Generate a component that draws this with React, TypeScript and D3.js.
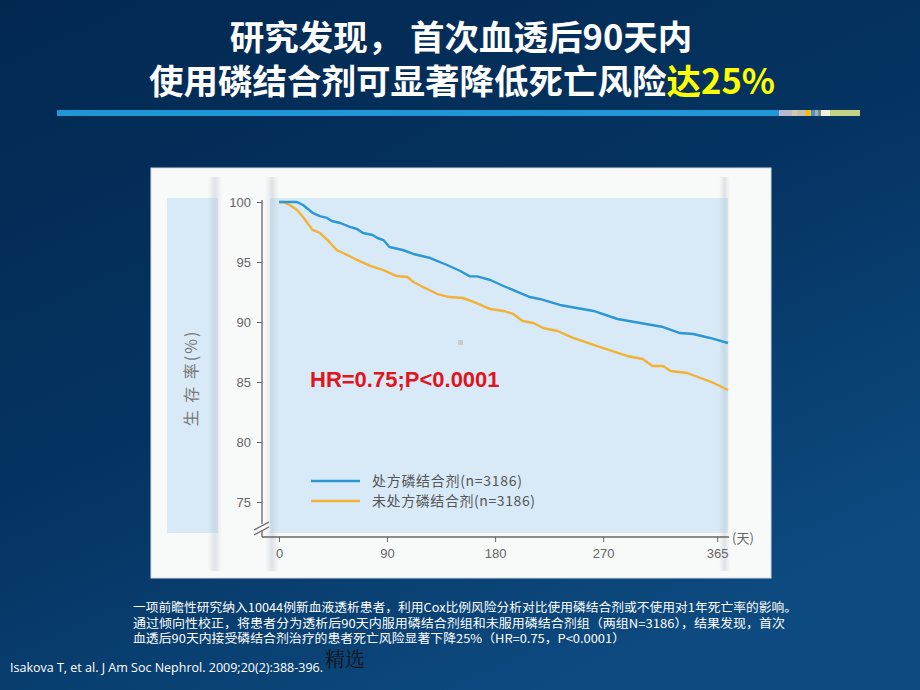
import { useEffect, useRef } from 'react';
import * as d3 from 'd3';

const titleLine1 = '研究发现， 首次血透后90天内';
const titleLine2 = '使用磷结合剂可显著降低死亡风险';
const titleHighlight = '达25%';

const blueDays = [0, 15, 20, 28, 34, 40, 44, 51, 59, 65, 70, 78, 82, 87, 92, 103, 112, 126, 140, 151, 159, 165, 176, 187, 209, 217, 234, 248, 262, 282, 301, 320, 334, 345, 359, 374];
const blueSurv = [100, 100, 99.75, 99.1, 98.83, 98.67, 98.42, 98.25, 97.92, 97.75, 97.42, 97.25, 97.0, 96.83, 96.25, 96.0, 95.67, 95.33, 94.75, 94.25, 93.8, 93.8, 93.5, 93.0, 92.08, 91.92, 91.42, 91.17, 90.92, 90.25, 89.92, 89.58, 89.08, 89.0, 88.67, 88.25];

const orangeDays = [0, 3, 9, 15, 20, 28, 34, 42, 48, 57, 65, 76, 87, 98, 107, 112, 120, 132, 142, 153, 162, 176, 187, 195, 203, 212, 220, 232, 245, 267, 290, 303, 311, 320, 326, 340, 362, 374];
const orangeSurv = [100, 100, 99.75, 99.33, 98.75, 97.67, 97.42, 96.67, 96.0, 95.58, 95.17, 94.67, 94.33, 93.83, 93.75, 93.33, 92.92, 92.33, 92.08, 92.0, 91.67, 91.08, 90.92, 90.67, 90.08, 89.92, 89.5, 89.25, 88.67, 87.92, 87.17, 86.92, 86.33, 86.33, 85.92, 85.75, 84.92, 84.33];

const xTicks = [0, 90, 180, 270, 365];
const yTicks = [75, 80, 85, 90, 95, 100];
const seriesNames = ['处方磷结合剂(n=3186)', '未处方磷结合剂(n=3186)'];
const seriesColors = ['#2b98d4', '#f2b236'];
const legendWidths = [150, 163];

const notes = [
  '一项前瞻性研究纳入10044例新血液透析患者，利用Cox比例风险分析对比使用磷结合剂或不使用对1年死亡率的影响。',
  '通过倾向性校正，将患者分为透析后90天内服用磷结合剂组和未服用磷结合剂组（两组N=3186），结果发现，首次',
  '血透后90天内接受磷结合剂治疗的患者死亡风险显著下降25%（HR=0.75，P<0.0001）'
];
const noteWidths = [664, 652, 492];
const citation = 'Isakova T, et al. J Am Soc Nephrol. 2009;20(2):388-396.';

// little coloured blocks at the end of the title rule
const decoColors = ['#b9b8d0', '#d2c9a6', '#c4c0b8', '#f0c012', '#4f8fd0', '#93b4c6', '#6f9070', '#f2f0da', '#c2d483'];
const decoWidths = [13, 5, 8, 6, 4, 3, 3, 9, 30];

const CJK = '"Noto Sans CJK SC", "Noto Sans", sans-serif';
const SANS = '"Liberation Sans", Arial, sans-serif';

export default function App() {
  const svgRef = useRef<SVGSVGElement>(null);

  useEffect(() => {
    if (!svgRef.current) return;
    const svg = d3.select(svgRef.current);
    svg.selectAll('*').remove();

    const defs = svg.append('defs');
    const bg = defs.append('linearGradient').attr('id', 'bg')
      .attr('x1', 0).attr('y1', 0).attr('x2', 0.6).attr('y2', 1);
    bg.append('stop').attr('offset', '0%').attr('stop-color', '#022850');
    bg.append('stop').attr('offset', '55%').attr('stop-color', '#053462');
    bg.append('stop').attr('offset', '100%').attr('stop-color', '#0d4a80');

    const shade = defs.append('linearGradient').attr('id', 'shade');
    shade.append('stop').attr('offset', '0%').attr('stop-color', '#a4b0bc').attr('stop-opacity', 0);
    shade.append('stop').attr('offset', '50%').attr('stop-color', '#a4b0bc').attr('stop-opacity', 0.3);
    shade.append('stop').attr('offset', '100%').attr('stop-color', '#a4b0bc').attr('stop-opacity', 0);

    svg.append('rect').attr('width', 920).attr('height', 690).attr('fill', 'url(#bg)');

    // title, two lines in one text block
    const title = svg.append('text')
      .attr('text-anchor', 'middle')
      .style('font-family', CJK).style('font-weight', 700).style('font-size', '34.5px')
      .attr('fill', '#fff');
    title.append('tspan').attr('x', 461).attr('y', 50).text(titleLine1);
    const t2 = title.append('tspan').attr('x', 462).attr('y', 93.5);
    t2.append('tspan').text(titleLine2);
    t2.append('tspan').attr('fill', '#ffff00').text(titleHighlight);

    // rule under title
    svg.append('rect').attr('x', 57).attr('y', 110).attr('width', 722).attr('height', 6).attr('fill', '#1f97d6');
    let dx = 779;
    decoColors.forEach((c, i) => {
      svg.append('rect').attr('x', dx).attr('y', 110).attr('width', decoWidths[i]).attr('height', 6).attr('fill', c);
      dx += decoWidths[i];
    });

    // card
    svg.append('rect').attr('x', 151).attr('y', 168).attr('width', 620).attr('height', 410)
      .attr('fill', '#f8f9f9').attr('stroke', '#d4dbe1').attr('stroke-width', 1);
    svg.append('rect').attr('x', 167).attr('y', 198).attr('width', 51).attr('height', 335).attr('fill', '#d8eaf7');
    svg.append('rect').attr('x', 270).attr('y', 198).attr('width', 458).attr('height', 335).attr('fill', '#d8eaf7');
    [[208, 14], [265, 14], [719, 11]].forEach(([sx, sw]) => {
      svg.append('rect').attr('x', sx).attr('y', 177).attr('width', sw).attr('height', 394).attr('fill', 'url(#shade)');
    });
    svg.append('rect').attr('x', 458).attr('y', 340).attr('width', 5).attr('height', 5).attr('fill', '#c8cdd2');

    const x = d3.scaleLinear().domain([0, 374]).range([279, 728]);
    const y = d3.scaleLinear().domain([75, 100]).range([502, 202]);

    // y axis
    const yAxis = svg.append('g').attr('transform', 'translate(262,0)')
      .call(d3.axisLeft(y).tickValues(yTicks).tickSize(5).tickPadding(6));
    yAxis.select('.domain').remove();
    yAxis.selectAll('line').attr('stroke', '#666');
    yAxis.selectAll('text').attr('fill', '#666').style('font-family', SANS).style('font-size', '13px');
    svg.append('line').attr('x1', 262).attr('x2', 262).attr('y1', 200).attr('y2', 524)
      .attr('stroke', '#666').attr('stroke-width', 1.3);
    svg.append('line').attr('x1', 262).attr('x2', 262).attr('y1', 530).attr('y2', 537)
      .attr('stroke', '#666').attr('stroke-width', 1.3);
    [0, 5].forEach(o => {
      svg.append('line').attr('x1', 254).attr('y1', 530 + o).attr('x2', 269).attr('y2', 522 + o)
        .attr('stroke', '#666').attr('stroke-width', 1.2);
    });

    // x axis
    const xAxis = svg.append('g').attr('transform', 'translate(0,537)')
      .call(d3.axisBottom(x).tickValues(xTicks).tickSize(5).tickPadding(7));
    xAxis.select('.domain').remove();
    xAxis.selectAll('line').attr('stroke', '#666');
    xAxis.selectAll('text').attr('fill', '#666').style('font-family', SANS).style('font-size', '13px');
    svg.append('line').attr('x1', 262).attr('x2', 729).attr('y1', 537).attr('y2', 537)
      .attr('stroke', '#666').attr('stroke-width', 1.3);
    svg.append('text').attr('x', 732).attr('y', 543)
      .attr('fill', '#666').style('font-family', CJK).style('font-size', '13px').text('(天)');

    svg.append('text')
      .attr('transform', 'translate(197,378) rotate(-90)')
      .attr('text-anchor', 'middle')
      .attr('fill', '#777').style('font-family', CJK).style('font-size', '16px')
      .style('letter-spacing', '2px')
      .text('生 存 率(%)');

    // curves
    const line = d3.line<number>()
      .x(d => x(d[0]))
      .y(d => y(d[1]));
    const series = [
      blueDays.map((d, i) => [d, blueSurv[i]]),
      orangeDays.map((d, i) => [d, orangeSurv[i]])
    ];
    [1, 0].forEach(k => {
      svg.append('path')
        .datum(series[k])
        .attr('d', line as any)
        .attr('fill', 'none')
        .attr('stroke', seriesColors[k])
        .attr('stroke-width', 2.4)
        .attr('stroke-linejoin', 'round');
    });

    svg.append('text').attr('x', 310).attr('y', 387)
      .attr('fill', '#e1141c').style('font-family', SANS).style('font-weight', 700).style('font-size', '22px')
      .text('HR=0.75;P<0.0001');

    // legend
    seriesNames.forEach((name, i) => {
      const ly = 481 + i * 20;
      svg.append('line').attr('x1', 311).attr('x2', 360).attr('y1', ly).attr('y2', ly)
        .attr('stroke', seriesColors[i]).attr('stroke-width', 2.4);
      svg.append('text').attr('x', 372).attr('y', ly + 5)
        .attr('fill', '#555').style('font-family', CJK).style('font-size', '14px')
        .attr('textLength', legendWidths[i]).attr('lengthAdjust', 'spacing')
        .text(name);
    });

    // footnotes
    notes.forEach((n, i) => {
      svg.append('text').attr('x', 133).attr('y', 612 + i * 15.5)
        .attr('fill', '#fff').style('font-family', CJK).style('font-size', '12px')
        .attr('textLength', noteWidths[i]).attr('lengthAdjust', 'spacingAndGlyphs')
        .text(n);
    });
    svg.append('text').attr('x', 10).attr('y', 672)
      .attr('fill', '#fff').style('font-family', '"Open Sans", sans-serif').style('font-size', '12.5px')
      .attr('textLength', 313).attr('lengthAdjust', 'spacingAndGlyphs')
      .text(citation);
    svg.append('text').attr('x', 325).attr('y', 667)
      .attr('fill', '#111').style('font-family', '"Noto Serif CJK SC", "Noto Sans CJK SC", serif').style('font-size', '20px')
      .text('精选');
  }, []);

  return (
    <svg
      ref={svgRef}
      width={920}
      height={690}
      style={{ position: 'fixed', left: 0, top: 0, display: 'block' }}
    ></svg>
  );
}
